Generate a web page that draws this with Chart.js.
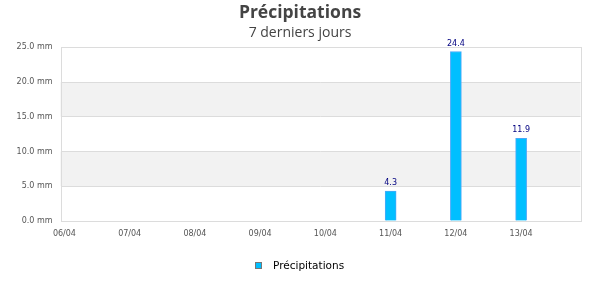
<!DOCTYPE html>
<html><head><meta charset="utf-8">
<script src="https://cdn.jsdelivr.net/npm/chart.js@4/dist/chart.umd.min.js"></script>
<style>html,body{margin:0;padding:0;background:#fff;overflow:hidden}</style>
</head><body>
<canvas id="c" width="600" height="300" style="display:block;width:600px;height:300px"></canvas>
<script>
const dayLabels = ['06/04','07/04','08/04','09/04','10/04','11/04','12/04','13/04'];
const precipitation = [0, 0, 0, 0, 0, 4.3, 24.4, 11.9];
const yTickValues = [0, 5, 10, 15, 20, 25];
const seriesName = 'Précipitations';

const GRID = '#dcdcdc';
const BAND = '#f2f2f2';
const BAR = '#00bfff';

const bandsPlugin = {
  id: 'bands',
  beforeDraw(chart) {
    const {ctx, chartArea: a, scales: {y}} = chart;
    ctx.save();
    ctx.fillStyle = BAND;
    for (let i = 0; i < yTickValues.length - 1; i++) {
      if (i % 2 === 1) {
        const top = y.getPixelForValue(yTickValues[i + 1]);
        const bot = y.getPixelForValue(yTickValues[i]);
        ctx.fillRect(a.left, top, a.right - a.left, bot - top);
      }
    }
    ctx.restore();
  },
  beforeDatasetsDraw(chart) {
    const {ctx, chartArea: a} = chart;
    ctx.save();
    ctx.strokeStyle = GRID;
    ctx.lineWidth = 1;
    ctx.strokeRect(Math.round(a.left) + 0.5, Math.round(a.top) + 0.5,
                   Math.round(a.right - a.left), Math.round(a.bottom - a.top));
    ctx.restore();
  }
};

const valueLabels = {
  id: 'valueLabels',
  afterDatasetsDraw(chart) {
    const {ctx} = chart;
    const meta = chart.getDatasetMeta(0);
    ctx.save();
    ctx.font = '8px "DejaVu Sans"';
    ctx.fillStyle = '#000080';
    ctx.textAlign = 'center';
    ctx.textBaseline = 'middle';
    meta.data.forEach((el, i) => {
      const v = chart.data.datasets[0].data[i].y;
      if (v > 0) ctx.fillText(v.toFixed(1), el.x, el.y - 8);
    });
    ctx.restore();
  }
};

const bottomLegend = {
  id: 'bottomLegend',
  afterDraw(chart) {
    const {ctx} = chart;
    ctx.save();
    ctx.font = '10.5px "DejaVu Sans"';
    const text = chart.data.datasets[0].label;
    const tw = ctx.measureText(text).width;
    const total = 7 + 11 + tw;
    const x0 = Math.round(299.5 - total / 2);
    ctx.fillStyle = BAR;
    ctx.fillRect(x0, 262, 7, 7);
    ctx.strokeStyle = '#777';
    ctx.lineWidth = 1;
    ctx.strokeRect(x0 + 0.5, 262.5, 6, 6);
    ctx.fillStyle = '#000';
    ctx.textAlign = 'left';
    ctx.textBaseline = 'middle';
    ctx.fillText(text, x0 + 18, 266);
    ctx.restore();
  }
};

new Chart(document.getElementById('c'), {
  type: 'bar',
  data: {
    datasets: [{
      label: seriesName,
      data: dayLabels.map((d, i) => ({x: i, y: precipitation[i]})),
      backgroundColor: BAR,
      borderColor: '#4aa8f8',
      borderWidth: 1,
      barThickness: 11
    }]
  },
  options: {
    responsive: false,
    animation: false,
    layout: {padding: {top: 0, right: 0, bottom: 48, left: 0}},
    scales: {
      x: {
        type: 'linear',
        offset: false,
        min: -0.06,
        max: 7.91,
        afterBuildTicks: s => { s.ticks = dayLabels.map((d, i) => ({value: i})); },
        afterFit: s => { s.height = 31; },
        grid: {display: false, offset: false},
        border: {display: false},
        ticks: {
          autoSkip: false,
          maxRotation: 0,
          padding: 0,
          color: '#555',
          font: {family: 'DejaVu Sans', size: 8},
          callback: v => dayLabels[v] ?? ''
        }
      },
      y: {
        min: 0,
        max: 25,
        afterBuildTicks: s => { s.ticks = yTickValues.map(v => ({value: v})); },
        afterFit: s => { s.width = 60.5; },
        grid: {color: GRID, drawTicks: false},
        border: {display: false},
        ticks: {
          padding: 8,
          color: '#555',
          font: {family: 'DejaVu Sans', size: 8},
          callback: v => v.toFixed(1) + ' mm'
        }
      },
      yRight: {
        type: 'linear',
        position: 'right',
        display: true,
        min: 0,
        max: 25,
        grid: {display: false, drawTicks: false},
        border: {display: false},
        ticks: {display: false},
        afterFit: s => { s.width = 19.5; }
      }
    },
    plugins: {
      title: {
        display: true,
        text: 'Précipitations',
        color: '#444',
        font: {family: 'Open Sans', size: 17.5, weight: 'bold'},
        padding: {top: 2.5, bottom: 0}
      },
      subtitle: {
        display: true,
        text: '7 derniers jours',
        color: '#444',
        font: {family: 'Open Sans', size: 14},
        padding: {top: 1, bottom: 6}
      },
      legend: {display: false},
      tooltip: {enabled: false}
    }
  },
  plugins: [bandsPlugin, valueLabels, bottomLegend]
});
</script>
</body></html>
